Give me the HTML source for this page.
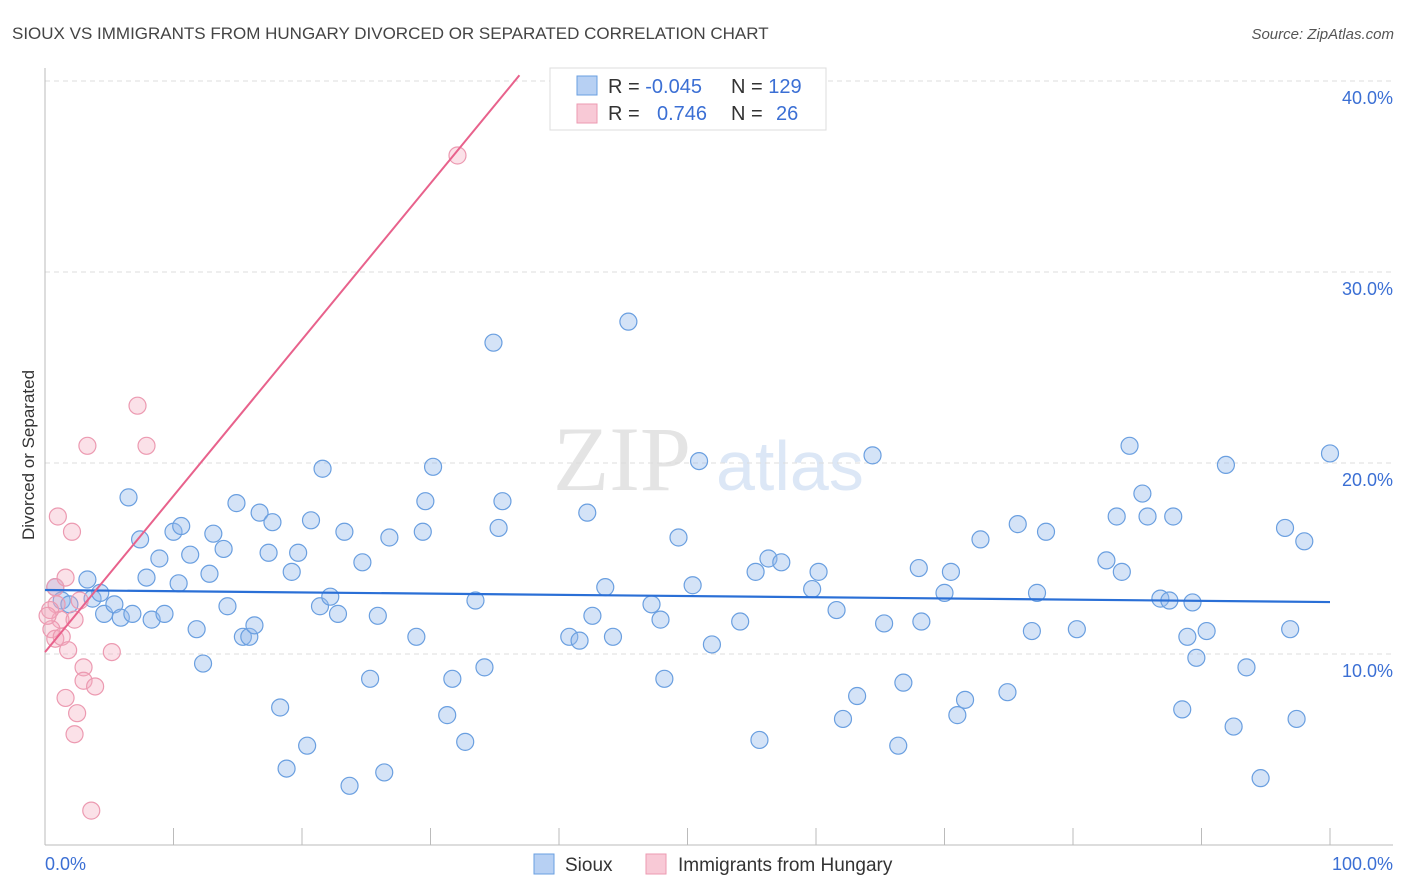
<!DOCTYPE html>
<html><head><meta charset="utf-8"><style>
body{margin:0;background:#fff;font-family:"Liberation Sans",sans-serif}
svg{display:block}
</style></head><body>
<svg id="chart" width="1406" height="892">
<text x="12" y="39" font-size="17" fill="#444">SIOUX VS IMMIGRANTS FROM HUNGARY DIVORCED OR SEPARATED CORRELATION CHART</text>
<text x="1394" y="39" font-size="15" fill="#555" font-style="italic" text-anchor="end">Source: ZipAtlas.com</text>
<g>
<text x="553" y="490" font-size="92" fill="#e4e4e4" font-family="Liberation Serif,serif">ZIP</text>
<text x="716" y="490" font-size="70" fill="#dce7f6">atlas</text>
</g>
<g id="grid"></g>
<g id="axes"></g>
<g id="marks"></g>
<g>
<rect x="550" y="68" width="276" height="62" fill="#fff" stroke="#ddd"/>
<rect x="577" y="76" width="20" height="19" fill="#b7d0f3" stroke="#6a9fe0"/>
<rect x="577" y="104" width="20" height="19" fill="#f8c9d6" stroke="#ec9ab1"/>
<text x="608" y="93" font-size="20" fill="#333">R = <tspan fill="#3b6fd4">-0.045</tspan><tspan x="731">N = </tspan><tspan fill="#3b6fd4">129</tspan></text>
<text x="608" y="120" font-size="20" fill="#333">R = <tspan x="657" fill="#3b6fd4">0.746</tspan><tspan x="731">N = </tspan><tspan x="776" fill="#3b6fd4">26</tspan></text>
</g>
<g>
<rect x="534" y="854" width="20" height="20" fill="#b7d0f3" stroke="#6a9fe0"/>
<text x="565" y="871" font-size="19" fill="#333">Sioux</text>
<rect x="646" y="854" width="20" height="20" fill="#f8c9d6" stroke="#ec9ab1"/>
<text x="678" y="871" font-size="19" fill="#333">Immigrants from Hungary</text>
</g>
<text transform="translate(34,455) rotate(-90)" font-size="17" fill="#333" text-anchor="middle">Divorced or Separated</text>
</svg>
<script>
const yTicks=[10,20,30,40];
const yTickLabels=["10.0%","20.0%","30.0%","40.0%"];
const xTicks=[0,10,20,30,40,50,60,70,80,90,100];
const siouxX=[0.8,1.3,1.9,3.3,3.7,4.3,4.6,5.4,5.9,6.5,6.8,7.4,7.9,8.3,8.9,9.3,10.0,10.4,10.6,11.3,11.8,12.3,12.8,13.1,13.9,14.2,14.9,15.4,15.9,16.3,16.7,17.4,17.7,18.3,18.8,19.2,19.7,20.4,20.7,21.4,21.6,22.2,22.8,23.3,23.7,24.7,25.3,25.9,26.4,26.8,28.9,29.4,29.6,30.2,31.3,31.7,32.7,33.5,34.2,34.9,35.3,35.6,40.8,41.6,42.2,42.6,43.6,44.2,45.4,47.2,47.9,48.2,49.3,50.4,50.9,51.9,54.1,55.3,55.6,56.3,57.3,59.7,60.2,61.6,62.1,63.2,64.4,65.3,66.4,66.8,68.0,68.2,70.0,70.5,71.0,71.6,72.8,74.9,75.7,76.8,77.2,77.9,80.3,82.6,83.4,83.8,84.4,85.4,85.8,86.8,87.5,87.8,88.5,88.9,89.3,89.6,90.4,91.9,92.5,93.5,94.6,96.5,96.9,97.4,98.0,100.0];
const siouxY=[13.5,12.8,12.6,13.9,12.9,13.2,12.1,12.6,11.9,18.2,12.1,16.0,14.0,11.8,15.0,12.1,16.4,13.7,16.7,15.2,11.3,9.5,14.2,16.3,15.5,12.5,17.9,10.9,10.9,11.5,17.4,15.3,16.9,7.2,4.0,14.3,15.3,5.2,17.0,12.5,19.7,13.0,12.1,16.4,3.1,14.8,8.7,12.0,3.8,16.1,10.9,16.4,18.0,19.8,6.8,8.7,5.4,12.8,9.3,26.3,16.6,18.0,10.9,10.7,17.4,12.0,13.5,10.9,27.4,12.6,11.8,8.7,16.1,13.6,20.1,10.5,11.7,14.3,5.5,15.0,14.8,13.4,14.3,12.3,6.6,7.8,20.4,11.6,5.2,8.5,14.5,11.7,13.2,14.3,6.8,7.6,16.0,8.0,16.8,11.2,13.2,16.4,11.3,14.9,17.2,14.3,20.9,18.4,17.2,12.9,12.8,17.2,7.1,10.9,12.7,9.8,11.2,19.9,6.2,9.3,3.5,16.6,11.3,6.6,15.9,20.5];
const hungX=[0.8,1.0,2.1,0.9,1.2,0.4,0.5,0.8,1.3,1.8,1.6,2.3,3.0,3.0,3.9,1.6,2.5,2.3,5.2,7.2,7.9,3.3,3.6,32.1,0.2,2.7];
const hungY=[13.5,17.2,16.4,12.6,11.8,12.3,11.3,10.8,10.9,10.2,14.0,11.8,9.3,8.6,8.3,7.7,6.9,5.8,10.1,23.0,20.9,20.9,1.8,36.1,12.0,12.8];
const siouxTrend=[13.35,12.72];
const hungTrend=[10.1,0.818];

const X0=45,X1=1330,Y0=845,YS=19.1;
const sx=v=>X0+(X1-X0)*v/100;
const sy=v=>Y0-v*YS;
const NS="http://www.w3.org/2000/svg";
function mk(tag,parent,attrs){const e=document.createElementNS(NS,tag);for(const k in attrs)e.setAttribute(k,attrs[k]);parent.appendChild(e);return e;}
const grid=document.getElementById('grid'),axes=document.getElementById('axes'),marks=document.getElementById('marks');
yTicks.forEach((t,i)=>{
 const l=mk('line',grid,{x1:X0,x2:1393,y1:sy(t),y2:sy(t),stroke:'#ddd','stroke-dasharray':'5,4'});
 
 
 const tx=mk('text',axes,{x:1393,y:sy(t)+23,'font-size':18,fill:'#3b6fd4','text-anchor':'end'});
 tx.textContent=yTickLabels[i];
 
 
});
const tl=mk('line',grid,{x1:X0,x2:1393,y1:sy(40),y2:sy(40),stroke:'#ddd','stroke-dasharray':'5,4'});
const ya=mk('line',axes,{x1:X0,x2:X0,y1:68,y2:Y0,stroke:'#bbb'});


const xa=mk('line',axes,{x1:X0,x2:1393,y1:Y0,y2:Y0,stroke:'#bbb'});


xTicks.forEach(t=>{
 const l=mk('line',axes,{x1:sx(t),x2:sx(t),y1:828,y2:Y0,stroke:'#bbb'});
 
 
});
const xl0=mk('text',axes,{x:45,y:870,'font-size':18,fill:'#3b6fd4'});xl0.textContent='0.0%';


const xl1=mk('text',axes,{x:1393,y:870,'font-size':18,fill:'#3b6fd4','text-anchor':'end'});xl1.textContent='100.0%';


siouxX.forEach((v,i)=>{
 const c=mk('circle',marks,{cx:sx(v),cy:sy(siouxY[i]),r:8.5,fill:'rgba(147,186,235,0.4)',stroke:'#6a9fe0','stroke-width':1.2});
 
 
});
hungX.forEach((v,i)=>{
 const c=mk('circle',marks,{cx:sx(v),cy:sy(hungY[i]),r:8.5,fill:'rgba(244,170,190,0.35)',stroke:'#ec9ab1','stroke-width':1.2});
 
 
});
const sl=mk('line',marks,{x1:sx(0),y1:sy(siouxTrend[0]),x2:sx(100),y2:sy(siouxTrend[1]),stroke:'#2a6fd6','stroke-width':2.2});


const xEnd=(40.3-hungTrend[0])/hungTrend[1];
const hl=mk('line',marks,{x1:sx(0),y1:sy(hungTrend[0]),x2:sx(xEnd),y2:sy(hungTrend[0]+hungTrend[1]*xEnd),stroke:'#e8628c','stroke-width':2});


</script>
</body></html>
